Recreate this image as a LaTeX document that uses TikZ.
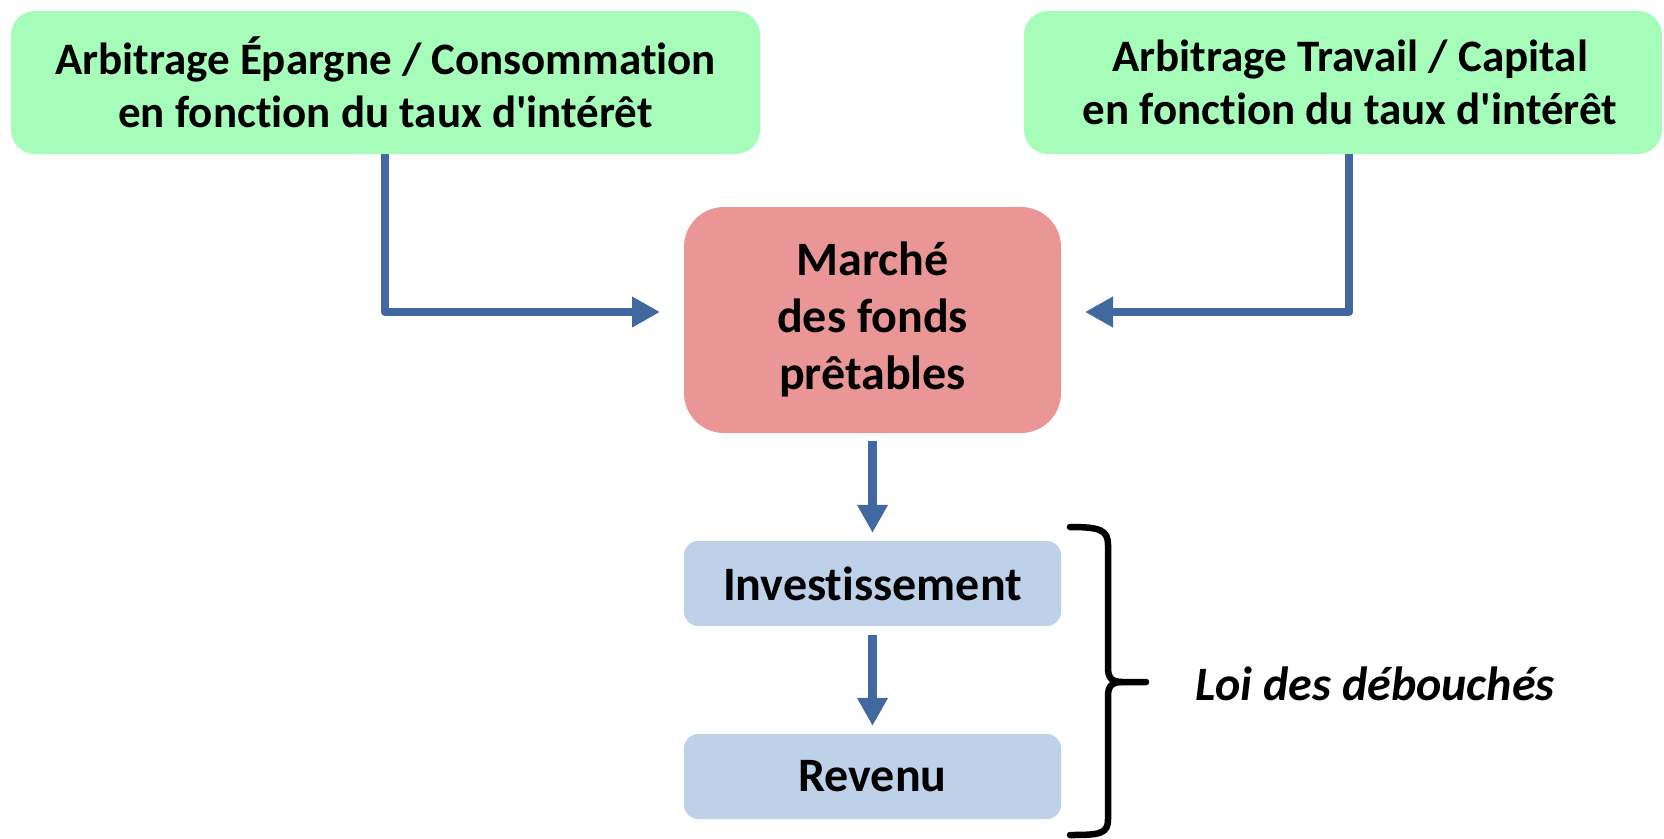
\documentclass[tikz,border=0pt]{standalone}
\usepackage{fontspec}
\newfontfamily\calfont{Carlito}[Ligatures=NoCommon]
\usetikzlibrary{arrows.meta}
\definecolor{boxgreen}{RGB}{166,253,186}
\definecolor{boxred}{RGB}{234,150,150}
\definecolor{boxblue}{RGB}{189,209,232}
\definecolor{arrowblue}{RGB}{65,105,160}
\tikzset{
  greenbox/.style={fill=boxgreen, rounded corners=24pt, align=center, font=\calfont\fontsize{45}{53}\selectfont\bfseries, inner sep=0pt},
  redbox/.style={fill=boxred, rounded corners=40pt, align=center, font=\calfont\fontsize{48}{57}\selectfont\bfseries, inner sep=0pt, minimum width=377pt, minimum height=226pt},
  bluebox/.style={fill=boxblue, rounded corners=14pt, align=center, font=\calfont\fontsize{48}{57}\selectfont\bfseries, inner sep=0pt, minimum width=377pt, minimum height=85pt},
  conn/.style={draw=arrowblue, line width=8.5pt, line join=round, -{Triangle[length=28pt,width=29pt]}},
  bracepath/.style={draw=black, line width=6.5pt, line cap=round}
}
\begin{document}
\begin{tikzpicture}[x=1pt,y=-1pt]
\useasboundingbox (0,0) rectangle (1664,838);
\node[greenbox, minimum width=749pt, minimum height=143pt] (lg) at (385.5,82.5) {Arbitrage Épargne / Consommation\\en fonction du taux d'intérêt};
\node[greenbox, minimum width=638pt, minimum height=143pt] (rg) at (1343,82.5) {\hspace*{14pt}Arbitrage Travail / Capital\\\hspace*{14pt}en fonction du taux d'intérêt};
\node[redbox] (mk) at (872.5,320) {Marché\\des fonds\\prêtables\rule[-9pt]{0pt}{1pt}};
\node[bluebox] (inv) at (872.5,583.5) {Investissement};
\node[bluebox] (rev) at (872.5,776.5) {Revenu};
\coordinate (lturn) at (385,312);
\coordinate (ltip) at (660,312);
\coordinate (rturn) at (1349,312);
\coordinate (rtip) at (1085,312);
\draw[conn] (lg.south -| lturn) -- (lturn) -- (ltip);
\draw[conn] (rg.south -| rturn) -- (rturn) -- (rtip);
\draw[conn, shorten <=8pt, shorten >=8pt] (mk.south) -- (inv.north);
\draw[conn, shorten <=9pt, shorten >=8pt] (inv.south) -- (rev.north);
\coordinate (btop) at (1070,527);
\coordinate (btip) at (1146,682);
\coordinate (bbot) at (1070,835);
\draw[bracepath] (btop) .. controls (1100,527) and (1108,530) .. (1108,545) -- (1108,668) .. controls (1108,678) and (1112,682) .. (1122,682) -- (btip);
\draw[bracepath] (1122,682) .. controls (1112,682) and (1108,686) .. (1108,696) -- (1108,819) .. controls (1108,834) and (1100,835) .. (bbot);
\node[font=\calfont\fontsize{48}{57}\selectfont\bfseries\itshape, anchor=west, inner sep=0pt] (loi) at (1195,684) {Loi des débouchés};
\end{tikzpicture}
\end{document}
